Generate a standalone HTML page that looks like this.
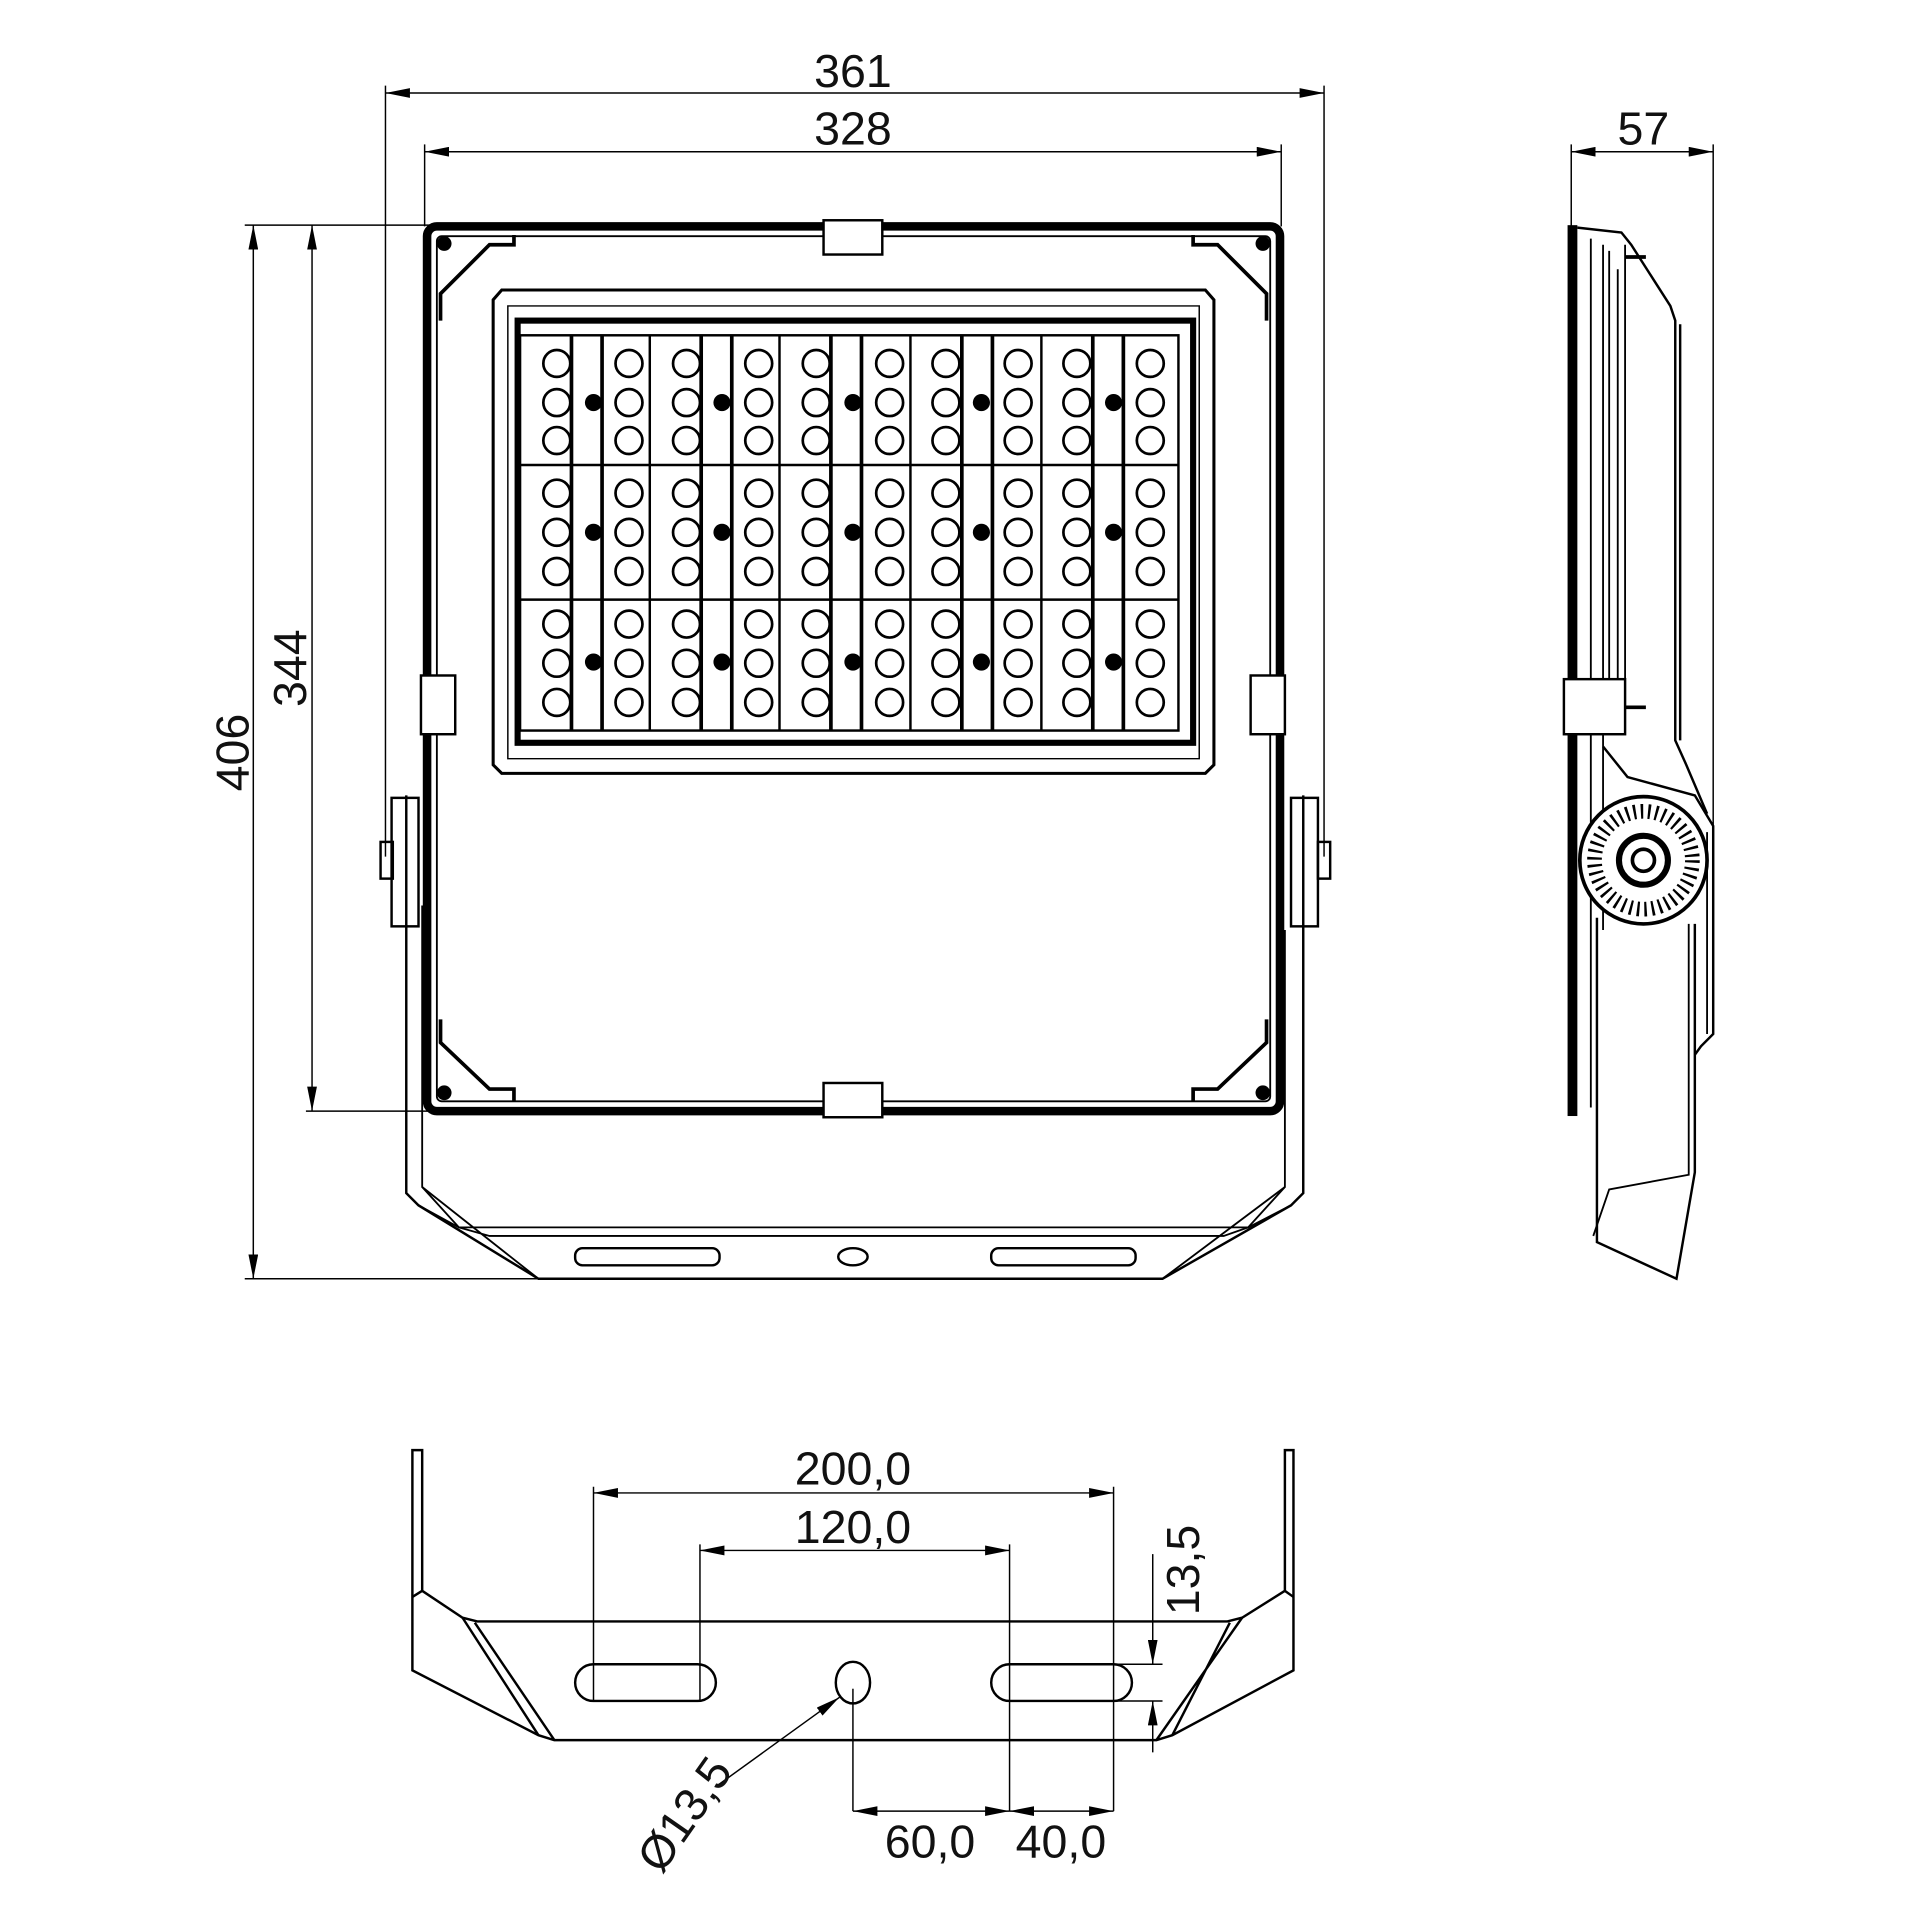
<!DOCTYPE html>
<html><head><meta charset="utf-8"><style>
html,body{margin:0;padding:0;background:#fff}
svg{display:block}
text{font-family:"Liberation Sans Narrow","Liberation Sans",sans-serif;font-size:38px;fill:#111}
</style></head><body>
<svg width="1920" height="1920" viewBox="0 0 1569 1569" xmlns="http://www.w3.org/2000/svg">
<defs>
<marker id="a" viewBox="0 0 20 8" refX="20" refY="4" markerWidth="20" markerHeight="8" markerUnits="userSpaceOnUse" orient="auto-start-reverse"><path d="M0,0L20,4L0,8z" fill="#000"/></marker>
<g id="col"><circle cx="0" cy="297" r="11"/><circle cx="0" cy="329" r="11"/><circle cx="0" cy="360" r="11"/><circle cx="0" cy="403" r="11"/><circle cx="0" cy="435" r="11"/><circle cx="0" cy="467" r="11"/><circle cx="0" cy="510" r="11"/><circle cx="0" cy="542" r="11"/><circle cx="0" cy="574" r="11"/></g>
<g id="dots"><circle cx="0" cy="329" r="7"/><circle cx="0" cy="435" r="7"/><circle cx="0" cy="541" r="7"/></g>
</defs>
<g stroke="#000" fill="none" stroke-width="1.2">
<line x1="315" y1="76" x2="1082" y2="76" marker-start="url(#a)" marker-end="url(#a)"/>
<line x1="315" y1="70" x2="315" y2="700"/><line x1="1082" y1="70" x2="1082" y2="700"/>
<line x1="347" y1="124" x2="1047" y2="124" marker-start="url(#a)" marker-end="url(#a)"/>
<line x1="347" y1="118" x2="347" y2="185"/><line x1="1047" y1="118" x2="1047" y2="185"/>
<line x1="207" y1="184" x2="207" y2="1045" marker-start="url(#a)" marker-end="url(#a)"/>
<line x1="200" y1="184" x2="360" y2="184"/><line x1="200" y1="1045" x2="445" y2="1045"/>
<line x1="255" y1="184" x2="255" y2="908" marker-start="url(#a)" marker-end="url(#a)"/>
<line x1="250" y1="908" x2="360" y2="908"/>
<line x1="1284" y1="124" x2="1400" y2="124" marker-start="url(#a)" marker-end="url(#a)"/>
<line x1="1284" y1="118" x2="1284" y2="185"/><line x1="1400" y1="118" x2="1400" y2="690"/>
</g>
<text x="697" y="71" text-anchor="middle">361</text>
<text x="697" y="118" text-anchor="middle">328</text>
<text transform="translate(203,615) rotate(-90)" text-anchor="middle">406</text>
<text transform="translate(250,546) rotate(-90)" text-anchor="middle">344</text>
<text x="1343" y="118" text-anchor="middle">57</text>

<g stroke="#000" fill="none">
<path d="M332,650 L332,975 L342,985 L440,1045 L950,1045 L1055,985 L1065,975 L1065,650" stroke-width="2"/>
<path d="M345,740 L345,970 L375,1003 L1020,1003 L1050,970 L1050,760" stroke-width="1.5"/>
<path d="M345,970 L440,1045 M1050,970 L950,1045 M375,1003 L400,1010 L1000,1010 L1020,1003" stroke-width="1.5"/>
<path d="M342,985 L375,1003 M1055,985 L1020,1003" stroke-width="1.5"/>
<rect x="470" y="1020" width="118" height="14" rx="6" stroke-width="2"/>
<rect x="810" y="1020" width="118" height="14" rx="6" stroke-width="2"/>
<ellipse cx="697" cy="1027" rx="12" ry="7" stroke-width="2"/>
<rect x="320" y="652" width="22" height="105" stroke-width="2"/>
<rect x="311" y="688" width="10" height="30" stroke-width="2"/>
<rect x="1055" y="652" width="22" height="105" stroke-width="2"/>
<rect x="1077" y="688" width="10" height="30" stroke-width="2"/>
<rect x="349" y="185" width="697" height="723" rx="8" stroke-width="7"/>
<rect x="357" y="193" width="681" height="707" rx="4" stroke-width="1.5"/>
<path d="M360,262 L360,240 L400,200 L420,200 L420,192" stroke-width="3"/>
<path d="M1035,262 L1035,240 L995,200 L975,200 L975,192" stroke-width="3"/>
<path d="M360,833 L360,852 L400,890 L420,890 L420,900" stroke-width="3"/>
<path d="M1035,833 L1035,852 L995,890 L975,890 L975,900" stroke-width="3"/>
<rect x="673" y="180" width="48" height="28" fill="#fff" stroke-width="2"/>
<rect x="673" y="885" width="48" height="28" fill="#fff" stroke-width="2"/>
<rect x="344" y="552" width="28" height="48" fill="#fff" stroke-width="2"/>
<rect x="1022" y="552" width="28" height="48" fill="#fff" stroke-width="2"/>
<path d="M403,245 L410,237 L985,237 L992,245 L992,625 L985,632 L410,632 L403,625 Z" stroke-width="2.5"/>
<path d="M415,250 L980,250 L980,620 L415,620 Z" stroke-width="1.2"/>
<rect x="423" y="262" width="552" height="345" stroke-width="5"/>
<rect x="425" y="274" width="538" height="323" stroke-width="2"/>
<line x1="425" y1="380" x2="963" y2="380" stroke-width="2"/>
<line x1="425" y1="490" x2="963" y2="490" stroke-width="2"/>
</g>
<g fill="#000"><circle cx="363" cy="199" r="6"/><circle cx="1032" cy="199" r="6"/><circle cx="363" cy="893" r="6"/><circle cx="1032" cy="893" r="6"/></g>
<g stroke="#000" fill="none" stroke-width="2">
<path d="M531,274V597M637,274V597M744,274V597M851,274V597"/>
<path d="M467,274V597M492,274V597M573,274V597M598,274V597M679,274V597M704,274V597M786,274V597M811,274V597M893,274V597M918,274V597" stroke-width="3"/>
</g>
<g stroke="#000" fill="#fff" stroke-width="2.2">
<use href="#col" x="455"/><use href="#col" x="514"/><use href="#col" x="561"/><use href="#col" x="620"/><use href="#col" x="667"/><use href="#col" x="727"/><use href="#col" x="773"/><use href="#col" x="832"/><use href="#col" x="880"/><use href="#col" x="940"/>
</g>
<g fill="#000"><use href="#dots" x="485"/><use href="#dots" x="590"/><use href="#dots" x="697"/><use href="#dots" x="802"/><use href="#dots" x="910"/></g>

<g stroke="#000" fill="none">
<rect x="1281" y="184" width="8" height="728" fill="#000" stroke="none"/>
<path d="M1289,186 L1325,190 L1333,200 L1365,250 L1369,262 L1369,605 L1378,625 L1395,665" stroke-width="2"/>
<path d="M1373,265 L1373,605" stroke-width="2"/>
<path d="M1300,195 L1300,905 M1310,200 L1310,760 M1315,205 L1315,600 M1322,220 L1322,600 M1328,200 L1328,600" stroke-width="1.5"/>
<rect x="1278" y="555" width="50" height="45" fill="#fff" stroke-width="2"/>
<path d="M1328,210 L1345,210 M1328,578 L1345,578" stroke-width="3"/>
<path d="M1310,610 L1330,635 L1385,650 L1400,675 L1400,845 L1390,855 L1385,862" stroke-width="2"/>
<path d="M1395,680 L1395,845" stroke-width="1.5"/>
<path d="M1305,750 L1305,1015 L1370,1045 L1385,958 L1385,755" stroke-width="2"/>
<path d="M1380,755 L1380,960 L1315,972 L1302,1010" stroke-width="1.5"/>
<circle cx="1343" cy="703" r="52" fill="#fff" stroke-width="3"/>
<circle cx="1343" cy="703" r="40" stroke-width="12" stroke-dasharray="2 4"/>
<circle cx="1343" cy="703" r="20" stroke-width="5"/>
<circle cx="1343" cy="703" r="9" stroke-width="3"/>
<path d="M1284,830 L1284,912" stroke-width="4"/>
</g>

<g stroke="#000" fill="none" stroke-width="2">
<path d="M337,1185 L337,1365 L440,1418 L453,1422 L945,1422 L958,1418 L1057,1365 L1057,1185 L1050,1185 L1050,1300 L1015,1322 L1003,1325 L390,1325 L378,1322 L345,1300 L345,1185 Z"/>
<path d="M345,1300 L337,1305 M378,1322 L440,1418 M388,1326 L453,1422 M1015,1322 L945,1422 M1005,1326 L958,1418 M1050,1300 L1057,1305"/>
<rect x="470" y="1360" width="115" height="30" rx="15"/>
<rect x="810" y="1360" width="115" height="30" rx="15"/>
<ellipse cx="697" cy="1375" rx="14" ry="17"/>
</g>
<g stroke="#000" fill="none" stroke-width="1.2">
<line x1="485" y1="1220" x2="910" y2="1220" marker-start="url(#a)" marker-end="url(#a)"/>
<line x1="485" y1="1215" x2="485" y2="1390"/><line x1="910" y1="1215" x2="910" y2="1480"/>
<line x1="572" y1="1267" x2="825" y2="1267" marker-start="url(#a)" marker-end="url(#a)"/>
<line x1="572" y1="1262" x2="572" y2="1390"/><line x1="825" y1="1262" x2="825" y2="1480"/>
<line x1="697" y1="1480" x2="825" y2="1480" marker-start="url(#a)" marker-end="url(#a)"/>
<line x1="825" y1="1480" x2="910" y2="1480" marker-start="url(#a)" marker-end="url(#a)"/>
<line x1="697" y1="1380" x2="697" y2="1480"/>
<line x1="910" y1="1360" x2="950" y2="1360"/><line x1="910" y1="1390" x2="950" y2="1390"/>
<line x1="942" y1="1270" x2="942" y2="1360" marker-end="url(#a)"/>
<line x1="942" y1="1432" x2="942" y2="1390" marker-end="url(#a)"/>
<line x1="585" y1="1460" x2="686" y2="1387" marker-end="url(#a)"/>
</g>
<text x="697" y="1213" text-anchor="middle">200,0</text>
<text x="697" y="1261" text-anchor="middle">120,0</text>
<text x="760" y="1518" text-anchor="middle">60,0</text>
<text x="867" y="1518" text-anchor="middle">40,0</text>
<text transform="translate(980,1283) rotate(-90)" text-anchor="middle">13,5</text>
<text transform="translate(570,1490) rotate(-55)" text-anchor="middle">Ø13,5</text>
</svg>
</body></html>
